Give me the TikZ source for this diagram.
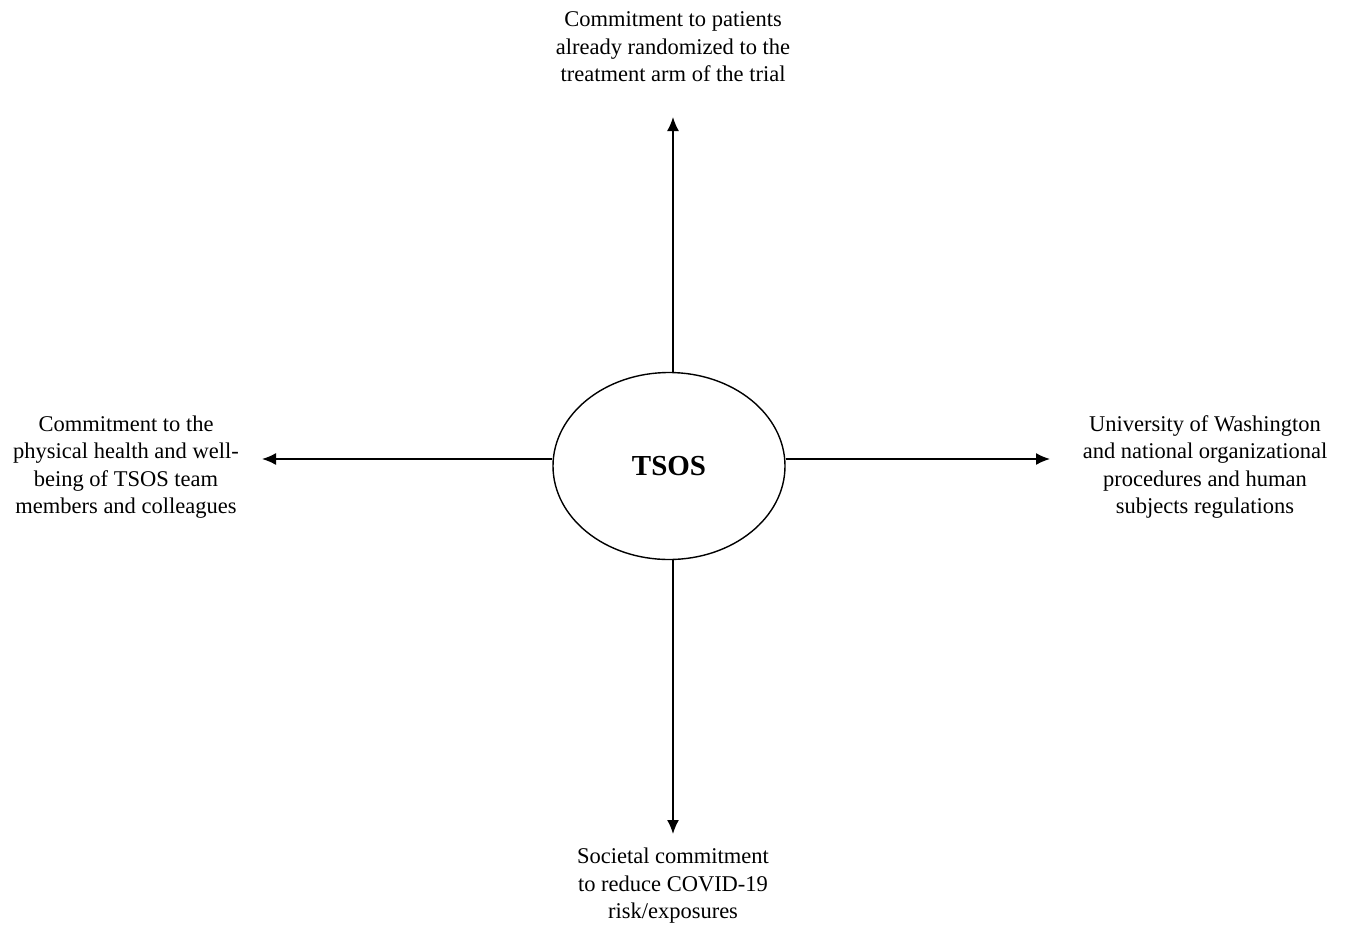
\documentclass[tikz,border=0pt]{standalone}
\usepackage{fontspec}
\setmainfont{Liberation Serif}
\usetikzlibrary{shapes.geometric,arrows.meta}
\begin{document}
\begin{tikzpicture}[x=1pt,y=-1pt,
  lbl/.style={align=center,font=\fontsize{22.5}{27.5}\selectfont,inner sep=0pt},
  conn/.style={line width=1.6pt,-{Latex[length=14pt,width=12pt]}}]
\useasboundingbox (0,0) rectangle (1349,930);
\node[ellipse,draw,line width=1.4pt,minimum width=232pt,minimum height=187pt,inner sep=0pt,font=\fontsize{29}{34}\selectfont\bfseries] (tsos) at (669,466) {TSOS};
\node[lbl] (top) at (673,47) {Commitment to patients\\already randomized to the\\treatment arm of the trial};
\node[lbl] (left) at (126,467) {Commitment to the\\physical health and well-\\being of TSOS team\\members and colleagues};
\node[lbl] (right) at (1205,467) {University of Washington\\and national organizational\\procedures and human\\subjects regulations};
\node[lbl] (bottom) at (673,886) {Societal commitment\\to reduce COVID-19\\risk/exposures};
\coordinate (tend) at (673,117);
\coordinate (bend) at (673,834);
\coordinate (lend) at (262,459);
\coordinate (rend) at (1050,459);
\draw[conn] (tsos.north -| tend) -- (tend);
\draw[conn] (tsos.south -| bend) -- (bend);
\draw[conn] (tsos.west |- lend) -- (lend);
\draw[conn] (tsos.east |- rend) -- (rend);
\end{tikzpicture}
\end{document}
